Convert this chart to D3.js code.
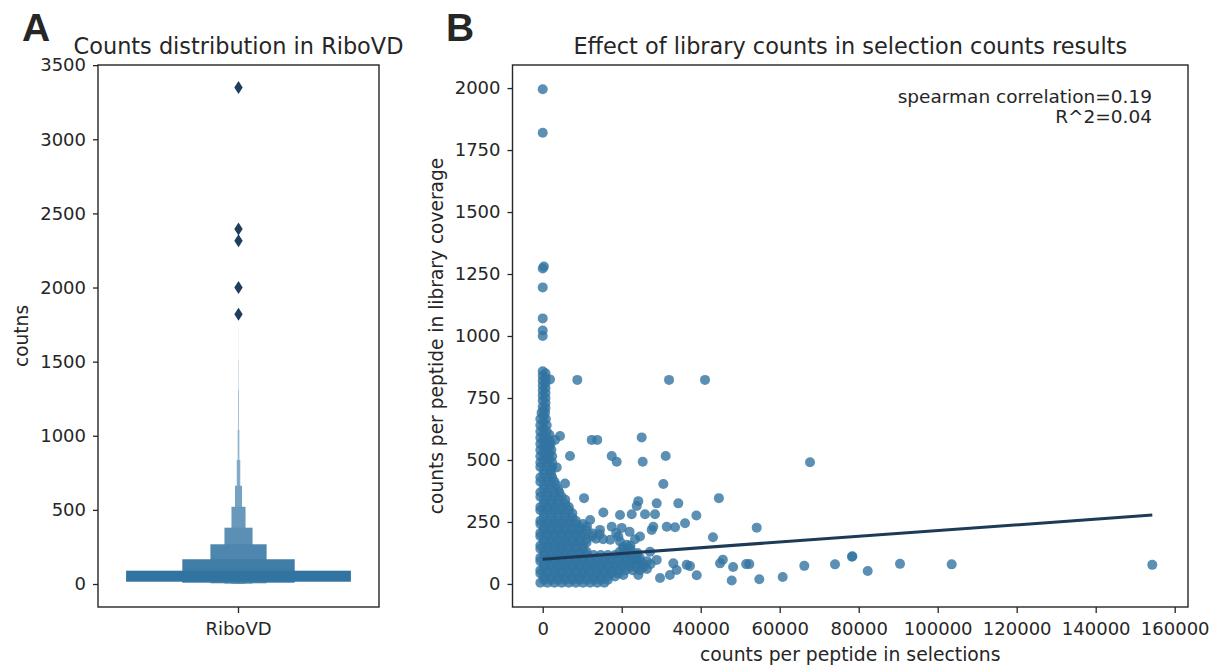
<!DOCTYPE html>
<html><head><meta charset="utf-8">
<script src="https://cdn.jsdelivr.net/npm/d3@7"></script>
<style>
body{margin:0;background:#fff}
svg text{font-family:"DejaVu Sans",sans-serif;fill:#262626}
</style></head>
<body><svg id="c" width="1221" height="671"></svg>
<script>
// ---------- Panel A data (boxen / letter-value plot) ----------
const boxCategory = ["RiboVD"];
const boxLevelLow  = [15.5, 8.8, 5, 3, 2, 1, 1, 0, 0, 0, 0];
const boxLevelHigh = [90, 167, 268, 380, 521, 663, 837, 1039, 1309, 1511, 1730];
const boxOutliers  = [1820, 2000, 2316, 2395, 3349];
const countTicks   = [0, 500, 1000, 1500, 2000, 2500, 3000, 3500];

// ---------- Panel B data (scatter + regression) ----------
const selectionTicks = [0, 20000, 40000, 60000, 80000, 100000, 120000, 140000, 160000];
const libraryTicks   = [0, 250, 500, 750, 1000, 1250, 1500, 1750, 2000];
const regLine = [[0, 100], [154330, 278]];
const statsText = ["spearman correlation=0.19", "R^2=0.04"];

// sparse / outlying peptides
const sparsePoints = [
 [0,1995],[0,1820],[300,1280],[0,1272],[0,1196],[0,1071],[0,1022],[0,1000],
 [1850,825],[8760,823],[31980,823],[41090,823],
 [4380,597],[3110,581],[12400,581],[13800,581],[25060,591],
 [6910,516],[17470,516],[18730,493],[25310,493],[31140,516],
 [3540,470],[5650,405],[30540,403],[10460,346],
 [24200,334],[23800,314],[28860,325],[34330,325],[44600,346],
 [15350,288],[19570,278],[22530,281],[25900,281],[28430,281],
 [38900,276],[36030,245],[54180,227],[43100,188],[67670,491],
 [14500,218],[17470,231],[20000,226],[28000,231],[31400,231],[33500,229],
 [12600,203],[14400,200],[18600,205],[22000,210],
 [13500,182],[15300,180],[17100,178],[19150,191],[23370,180],[24630,191],[27600,218],
 [19570,171],[20400,150],[22200,155],[21300,158],
 [19500,130],[21300,128],[22100,137],[24000,125],[27170,130],[20400,142],[22200,142],
 [23800,97],[28860,97],[20400,36],[24200,36],[29700,24],[32200,36],
 [45600,98],[44890,83],[48200,68],[51500,80],[52300,80],[47850,14],[54840,19],[60760,28],[66230,73],
 [74000,79],[78300,110],[78400,112],[82280,52],[90460,81],[103540,79],[154330,77],
 [37290,72],[38990,35],[33070,83],[33900,56],[36450,77]
];

// the crowded column near zero selections
const columnPoints = [
 [0,858],[0,840],[0,820],[0,800],[0,780],[0,760],[0,740],[0,715],
 [700,850],[700,830],[700,810],[700,790],[700,770],[700,750],[700,730],[700,710],
 [-300,690],[600,690],[-600,665],[800,665],[-600,640],[1000,640],[-600,615],[1000,615],
 [-600,590],[1000,590],[-600,565],[1000,565],[2000,565],[-600,540],[1000,540],[2200,540],
 [-600,515],[1000,515],[2400,515],[-600,490],[1000,490],[2400,490],
 [200,700],[200,677],[200,652],[200,627],[200,602],[200,577],[200,552],[200,527],[200,502],
 [1700,602],[1700,577],[1700,552],[1700,527],[1700,502]
];

// the dense low-count block
const densePoints = [
 [300,460],[2100,460],[-600,472],[1200,472],[2400,472],
 [-600,430],[1200,430],[2400,430],[300,442],[2100,442],
 [300,400],[2100,400],[3300,400],[-600,412],[1200,412],[3000,412],
 [-600,370],[1200,370],[3000,370],[4200,370],[300,382],[2100,382],[3900,382],
 [300,340],[2100,340],[3900,340],[5700,340],[-600,352],[1200,352],[3000,352],[4800,352],
 [-600,310],[1200,310],[3000,310],[4800,310],[6600,310],[300,322],[2100,322],[3900,322],[5700,322],
 [300,285],[2100,285],[3900,285],[5700,285],[7500,285],[-600,297],[1200,297],[3000,297],[4800,297],[6600,297],
 [-600,255],[1200,255],[3000,255],[4800,255],[6600,255],[8400,255],[12000,258],
 [300,267],[2100,267],[3900,267],[5700,267],[7500,267],
 [300,230],[2100,230],[3900,230],[5700,230],[7500,230],[9300,230],[11200,232],
 [-600,242],[1200,242],[3000,242],[4800,242],[6600,242],[8400,242],[10200,242],
 [-600,205],[1200,205],[3000,205],[4800,205],[6600,205],[8400,205],[10200,205],
 [300,217],[2100,217],[3900,217],[5700,217],[7500,217],[9300,217],[11100,217],
 [300,180],[2100,180],[3900,180],[5700,180],[7500,180],[9300,180],[11100,180],
 [-600,192],[1200,192],[3000,192],[4800,192],[6600,192],[8400,192],[10200,192],[12600,192],
 [-600,155],[1200,155],[3000,155],[4800,155],[6600,155],[8400,155],[10200,155],
 [300,167],[2100,167],[3900,167],[5700,167],[7500,167],[9300,167],[11100,167],
 [300,130],[2100,130],[3900,130],[5700,130],[7500,130],[9300,130],[11100,130],
 [-600,142],[1200,142],[3000,142],[4800,142],[6600,142],[8400,142],[10200,142],
 [-600,105],[1200,105],[3000,105],[4800,105],[6600,105],[8400,105],[10200,105],[12000,105],
 [13800,105],[15600,105],[17400,105],[19200,105],[21000,105],[22800,105],[24600,105],
 [300,117],[2100,117],[3900,117],[5700,117],[7500,117],[9300,117],[11100,117],[12900,117],
 [14700,117],[16500,117],[18300,117],[20100,117],[21900,117],[23700,117],
 [300,80],[2100,80],[3900,80],[5700,80],[7500,80],[9300,80],[11100,80],[12900,80],[14700,80],
 [16500,80],[18300,80],[20100,80],[21900,80],[23700,80],[25500,80],[27300,80],
 [-600,92],[1200,92],[3000,92],[4800,92],[6600,92],[8400,92],[10200,92],[12000,92],[13800,92],
 [15600,92],[17400,92],[19200,92],[21000,92],[22800,92],[24600,92],[26400,92],
 [-600,55],[1200,55],[3000,55],[4800,55],[6600,55],[8400,55],[10200,55],[12000,55],[13800,55],
 [15600,55],[17400,55],[19200,55],[21000,55],[22800,55],[24600,55],[26400,60],
 [300,67],[2100,67],[3900,67],[5700,67],[7500,67],[9300,67],[11100,67],[12900,67],[14700,67],
 [16500,67],[18300,67],[20100,67],[21900,67],[23700,67],[25500,67],
 [300,30],[2100,30],[3900,30],[5700,30],[7500,30],[9300,30],[11100,30],[12900,30],[14700,30],
 [16500,30],[18300,30],
 [-600,42],[1200,42],[3000,42],[4800,42],[6600,42],[8400,42],[10200,42],[12000,42],[13800,42],
 [15600,42],[17400,42],[19200,42],
 [-600,5],[1200,5],[3000,5],[4800,5],[6600,5],[8400,5],[10200,5],[12000,5],[13800,5],[15600,5],
 [300,17],[2100,17],[3900,17],[5700,17],[7500,17],[9300,17],[11100,17],[12900,17],[14700,17],[16500,17]
];
const scatterPoints = sparsePoints.concat(columnPoints, densePoints);

const svg = d3.select("#c");
const INK = "#262626";

function styleAxis(g, size){
  g.attr("font-family", null).attr("font-size", null);
  g.select(".domain").remove();
  g.selectAll(".tick line").attr("stroke", INK).attr("stroke-width", 1.3);
  g.selectAll(".tick text").attr("fill", INK).style("font-size", size + "px");
}

// ================= Panel A =================
const A = {l: 98, r: 379, t: 65, b: 607};
const xA = d3.scaleBand().domain(boxCategory).range([A.l, A.r]);
const yA = d3.scaleLinear().domain([-155, 3501]).range([A.b, A.t]);

const gA = svg.append("g");
const colA = d3.interpolateRgb("#3274a1", "#e6eff6");
const cx = xA(boxCategory[0]) + xA.bandwidth() / 2;
const levels = boxLevelHigh.map((h, i) => ({lo: boxLevelLow[i], hi: h, k: i}));
gA.selectAll("rect.lv").data(levels.slice().reverse()).join("rect")
  .attr("class", "lv")
  .attr("x", d => cx - xA.bandwidth() * 0.8 / Math.pow(2, d.k) / 2)
  .attr("width", d => xA.bandwidth() * 0.8 / Math.pow(2, d.k))
  .attr("y", d => yA(d.hi))
  .attr("height", d => yA(d.lo) - yA(d.hi))
  .attr("fill", d => colA(Math.min(0.85, d.k * 0.075)));

gA.selectAll("path.out").data(boxOutliers).join("path")
  .attr("class", "out")
  .attr("transform", d => `translate(${cx},${yA(d)})`)
  .attr("d", "M0,-6.5L4.2,0L0,6.5L-4.2,0Z")
  .attr("fill", "#1f3e5e");

gA.append("g").attr("transform", `translate(${A.l},0)`)
  .call(d3.axisLeft(yA).tickValues(countTicks).tickFormat(d3.format("d")).tickSize(5).tickPadding(7))
  .call(g => styleAxis(g, 18));
gA.append("g").attr("transform", `translate(0,${A.b})`)
  .call(d3.axisBottom(xA).tickSize(6).tickPadding(9))
  .call(g => styleAxis(g, 18));
gA.append("rect").attr("x", A.l).attr("y", A.t).attr("width", A.r - A.l).attr("height", A.b - A.t)
  .attr("fill", "none").attr("stroke", INK).attr("stroke-width", 1.4);

svg.append("text").attr("x", (A.l + A.r) / 2).attr("y", 54).attr("text-anchor", "middle")
  .style("font-size", "22.4px").text("Counts distribution in RiboVD");
svg.append("text").attr("transform", `translate(28,${(A.t + A.b) / 2}) rotate(-90)`)
  .attr("text-anchor", "middle").style("font-size", "18.6px").text("coutns");

// ================= Panel B =================
const B = {l: 512.5, r: 1188, t: 65, b: 607};
const xB = d3.scaleLinear().domain([-7650, 163370]).range([B.l, B.r]);
const yB = d3.scaleLinear().domain([-93, 2093]).range([B.b, B.t]);
const gB = svg.append("g");

gB.append("g").selectAll("circle").data(scatterPoints).join("circle")
  .attr("cx", d => xB(d[0])).attr("cy", d => yB(d[1])).attr("r", 5)
  .attr("fill", "#3274a1").attr("fill-opacity", 0.8);

gB.append("path").datum(regLine)
  .attr("d", d3.line().x(d => xB(d[0])).y(d => yB(d[1])))
  .attr("stroke", "#1d3b58").attr("stroke-width", 3).attr("fill", "none");

gB.append("g").attr("transform", `translate(${B.l},0)`)
  .call(d3.axisLeft(yB).tickValues(libraryTicks).tickFormat(d3.format("d")).tickSize(5).tickPadding(7))
  .call(g => styleAxis(g, 18));
gB.append("g").attr("transform", `translate(0,${B.b})`)
  .call(d3.axisBottom(xB).tickValues(selectionTicks).tickFormat(d3.format("d")).tickSize(6).tickPadding(9))
  .call(g => styleAxis(g, 18));
gB.append("rect").attr("x", B.l).attr("y", B.t).attr("width", B.r - B.l).attr("height", B.b - B.t)
  .attr("fill", "none").attr("stroke", INK).attr("stroke-width", 1.4);

svg.append("text").attr("x", (B.l + B.r) / 2).attr("y", 54).attr("text-anchor", "middle")
  .style("font-size", "22.4px").text("Effect of library counts in selection counts results");
svg.append("text").attr("x", (B.l + B.r) / 2).attr("y", 661).attr("text-anchor", "middle")
  .style("font-size", "18.8px").text("counts per peptide in selections");
svg.append("text").attr("transform", `translate(443,${(B.t + B.b) / 2}) rotate(-90)`)
  .attr("text-anchor", "middle").style("font-size", "18.6px").text("counts per peptide in library coverage");
svg.append("g").selectAll("text").data(statsText).join("text")
  .attr("x", 1152).attr("y", (d, i) => 103 + i * 20).attr("text-anchor", "end")
  .style("font-size", "18.5px").text(d => d);

// panel letters
svg.append("text").attr("x", 22).attr("y", 41).style("font-family", "'Liberation Sans',Arial,sans-serif")
  .style("font-size", "39px").style("font-weight", "bold").attr("fill", "#111").text("A");
svg.append("text").attr("x", 446).attr("y", 41).style("font-family", "'Liberation Sans',Arial,sans-serif")
  .style("font-size", "39px").style("font-weight", "bold").attr("fill", "#111").text("B");
</script></body></html>
